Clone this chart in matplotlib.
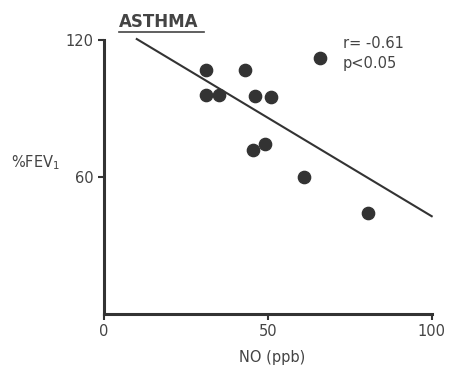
import matplotlib
matplotlib.use("Agg")
import matplotlib.pyplot as plt

plt.rcParams['font.family'] = ['DejaVu Sans']

# NO (ppb) vs %FEV1 for the asthma group
no_ppb = [31, 43, 66, 31, 35, 46, 51, 45.5, 49, 61, 80.5]
fev1 = [107, 107, 112, 96, 96, 95.5, 95, 72, 74.5, 60, 44]

# regression line as drawn (ends)
line_x = [10, 100]
line_y = [120.4, 42.8]

x_ticks = [0, 50, 100]
y_ticks = [60, 120]

ink = '#333333'
txt = '#444444'

fig = plt.figure(figsize=(4.53, 3.72), dpi=100)
ax = fig.add_axes([0.2296, 0.156, 0.7234, 0.7366])

ax.scatter(no_ppb, fev1, s=78, color=ink, zorder=3, clip_on=False)
ax.plot(line_x, line_y, color=ink, linewidth=1.5, clip_on=False)

ax.set_xlim(0, 100)
ax.set_ylim(0, 120)
ax.set_xticks(x_ticks)
ax.set_yticks(y_ticks)

for side in ['top', 'right']:
    ax.spines[side].set_visible(False)
for side in ['left', 'bottom']:
    ax.spines[side].set_linewidth(2.2)
    ax.spines[side].set_color(ink)
ax.tick_params(axis='both', colors=ink, labelcolor=txt, labelsize=10.5,
               width=1.5, length=4, direction='out')

# titles and labels
fig.text(0.262, 0.942, 'ASTHMA', fontsize=12, fontweight='bold', color=txt,
         ha='left', va='center')
fig.add_artist(plt.Line2D([0.262, 0.45], [0.913, 0.913], color=txt, linewidth=1.2))
fig.text(0.024, 0.562, r'%FEV$_\mathregular{1}$', fontsize=10.5, color=txt,
         ha='left', va='center')
fig.text(0.6, 0.04, 'NO (ppb)', fontsize=10.5, color=txt, ha='center', va='center')
fig.text(0.757, 0.884, 'r= -0.61', fontsize=10.5, color=txt, ha='left', va='center')
fig.text(0.757, 0.83, 'p<0.05', fontsize=10.5, color=txt, ha='left', va='center')

fig.savefig('out.png', dpi=100)
